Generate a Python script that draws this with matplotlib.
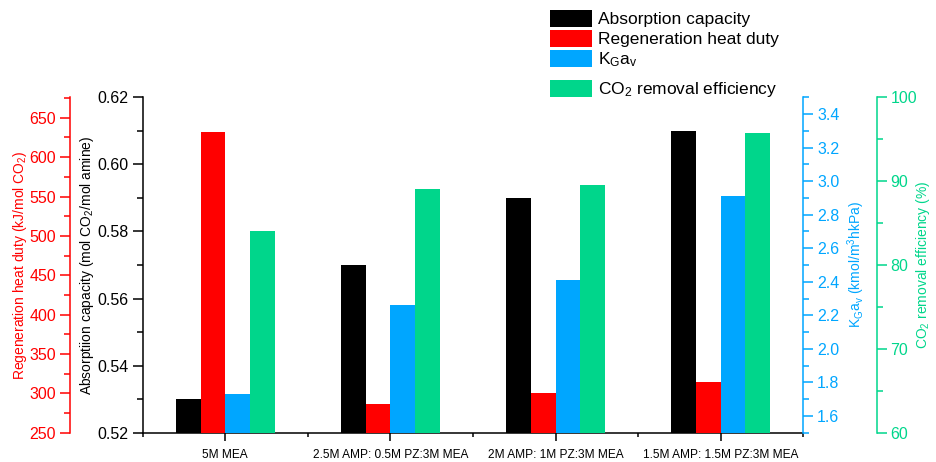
import matplotlib
matplotlib.use("Agg")
import matplotlib.pyplot as plt
import numpy as np
from matplotlib.ticker import MultipleLocator, FormatStrFormatter
from matplotlib.patches import Patch

plt.rcParams['font.family'] = ['Liberation Sans', 'DejaVu Sans']
plt.rcParams['mathtext.fontset'] = 'custom'
plt.rcParams['mathtext.rm'] = 'Liberation Sans'
plt.rcParams['mathtext.it'] = 'Liberation Sans'
plt.rcParams['mathtext.default'] = 'regular'

# Solvent blends
categories = ["5M MEA", "2.5M AMP: 0.5M PZ:3M MEA", "2M AMP: 1M PZ:3M MEA", "1.5M AMP: 1.5M PZ:3M MEA"]

# Measured quantities per blend
absorption_capacity = [0.530, 0.570, 0.590, 0.610]        # mol CO2 / mol amine
regen_heat_duty = [632, 286, 300, 315]                     # kJ / mol CO2
kga = [1.73, 2.26, 2.41, 2.91]                             # kmol / m3 h kPa
removal_eff = [84.0, 89.1, 89.5, 95.8]                     # %

series_labels = ["Absorption capacity", "Regeneration heat duty", "K$_G$a$_v$", "CO$_2$ removal efficiency"]

C_BLACK = "#000000"
C_RED = "#FF0000"
C_BLUE = "#00A6FF"
C_GREEN = "#00D68B"

fig = plt.figure(figsize=(9.36, 4.62), dpi=100)
ax = fig.add_axes([0.1525, 0.0634, 0.7057, 0.726])
ax_red = ax.twinx()
ax_blue = ax.twinx()
ax_green = ax.twinx()

x = np.arange(1, len(categories) + 1)
w = 0.15
offsets = [-1.5 * w, -0.5 * w, 0.5 * w, 1.5 * w]

ax.bar(x + offsets[0], absorption_capacity, w, color=C_BLACK)
ax_red.bar(x + offsets[1], regen_heat_duty, w, color=C_RED)
ax_blue.bar(x + offsets[2], kga, w, color=C_BLUE)
ax_green.bar(x + offsets[3], removal_eff, w, color=C_GREEN)

lw = 1.1
tick_fs = 11.5
label_fs = 10

# Main (absorption capacity) axis
ax.set_xlim(0.5, 4.5)
ax.set_ylim(0.52, 0.62)
ax.yaxis.set_major_locator(MultipleLocator(0.02))
ax.yaxis.set_minor_locator(MultipleLocator(0.01))
ax.yaxis.set_major_formatter(FormatStrFormatter('%.2f'))
ax.set_xticks(x)
ax.set_xticklabels(categories, fontsize=8.6)
ax.xaxis.set_minor_locator(MultipleLocator(0.5))
ax.tick_params(axis='y', which='major', direction='out', length=7, width=lw, labelsize=tick_fs, pad=3)
ax.tick_params(axis='y', which='minor', direction='out', length=4, width=lw)
ax.tick_params(axis='x', which='major', direction='out', length=6, width=lw, pad=6)
ax.tick_params(axis='x', which='minor', direction='out', length=3, width=lw)
for s in ['top', 'right']:
    ax.spines[s].set_visible(False)
for s in ['left', 'bottom']:
    ax.spines[s].set_linewidth(lw)
ax.set_ylabel("Absorptiion capacity (mol CO$_2$/mol amine)", fontsize=label_fs, labelpad=1.5)

# Regeneration heat duty axis, offset to the left
ax_red.set_ylim(250, 676)
ax_red.yaxis.set_ticks_position('left')
ax_red.yaxis.set_label_position('left')
ax_red.spines['left'].set_position(('axes', -0.110))
for s in ['top', 'right', 'bottom']:
    ax_red.spines[s].set_visible(False)
ax_red.spines['left'].set_visible(True)
ax_red.spines['left'].set_color(C_RED)
ax_red.spines['left'].set_linewidth(lw)
ax_red.yaxis.set_major_locator(MultipleLocator(50))
ax_red.yaxis.set_minor_locator(MultipleLocator(25))
ax_red.tick_params(axis='y', which='major', colors=C_RED, direction='out', length=7, width=lw, labelsize=tick_fs, pad=3)
ax_red.tick_params(axis='y', which='minor', colors=C_RED, direction='out', length=4, width=lw)
ax_red.set_ylabel("Regeneration heat duty (kJ/mol CO$_2$)", color=C_RED, fontsize=label_fs, labelpad=0)

# KGav axis on the right
ax_blue.set_ylim(1.5, 3.5)
for s in ['top', 'left', 'bottom']:
    ax_blue.spines[s].set_visible(False)
ax_blue.spines['right'].set_color(C_BLUE)
ax_blue.spines['right'].set_linewidth(lw)
ax_blue.set_yticks(np.arange(1.6, 3.41, 0.2))
ax_blue.yaxis.set_minor_locator(MultipleLocator(0.1))
ax_blue.yaxis.set_major_formatter(FormatStrFormatter('%.1f'))
ax_blue.tick_params(axis='y', which='major', colors=C_BLUE, direction='out', length=7, width=lw, labelsize=tick_fs, pad=3)
ax_blue.tick_params(axis='y', which='minor', colors=C_BLUE, direction='out', length=4, width=lw)
ax_blue.set_ylabel("K$_G$a$_v$ (kmol/m$^3$hkPa)", color=C_BLUE, fontsize=label_fs, labelpad=4)

# CO2 removal efficiency axis, offset to the right
ax_green.set_ylim(60, 100)
ax_green.spines['right'].set_position(('axes', 1.111))
for s in ['top', 'left', 'bottom']:
    ax_green.spines[s].set_visible(False)
ax_green.spines['right'].set_color(C_GREEN)
ax_green.spines['right'].set_linewidth(lw)
ax_green.yaxis.set_major_locator(MultipleLocator(10))
ax_green.yaxis.set_minor_locator(MultipleLocator(5))
ax_green.tick_params(axis='y', which='major', colors=C_GREEN, direction='out', length=7, width=lw, labelsize=tick_fs, pad=3)
ax_green.tick_params(axis='y', which='minor', colors=C_GREEN, direction='out', length=4, width=lw)
ax_green.set_ylabel("CO$_2$ removal efficiency (%)", color=C_GREEN, fontsize=label_fs, labelpad=-2.5)

# Legend: first three entries, then the subscripted CO2 entry slightly lower
colors = [C_BLACK, C_RED, C_BLUE, C_GREEN]
handles = [Patch(facecolor=c) for c in colors]
leg_kw = dict(loc='upper left', frameon=False, fontsize=12.5, handlelength=2.4,
              handleheight=1.1, handletextpad=0.35, labelspacing=0.15,
              borderpad=0, borderaxespad=0)
fig.legend(handles[:3], series_labels[:3], bbox_to_anchor=(0.588, 0.978), **leg_kw)
fig.legend(handles[3:], series_labels[3:], bbox_to_anchor=(0.588, 0.827), **leg_kw)

fig.savefig("out.png", dpi=100)
